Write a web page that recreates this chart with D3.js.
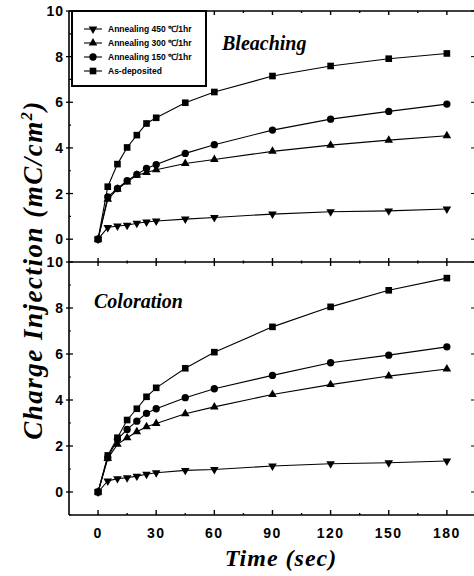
<!DOCTYPE html>
<html>
<head>
<meta charset="utf-8">
<script src="https://cdn.jsdelivr.net/npm/d3@7"></script>
<style>
  body { margin: 0; background: #fff; }
  svg { display: block; }
</style>
</head>
<body>
<div id="my_dataviz"></div>
<script>
// time points (sec)
const times = [0, 5, 10, 15, 20, 25, 30, 45, 60, 90, 120, 150, 180]

// Bleaching panel (mC/cm2)
const bleach450 = [0, 0.51, 0.58, 0.61, 0.70, 0.75, 0.80, 0.88, 0.95, 1.10, 1.20, 1.24, 1.32]
const bleach300 = [0, 1.75, 2.19, 2.51, 2.80, 2.92, 3.04, 3.32, 3.49, 3.85, 4.12, 4.34, 4.53]
const bleach150 = [0, 1.85, 2.22, 2.56, 2.84, 3.10, 3.27, 3.76, 4.14, 4.78, 5.26, 5.60, 5.92]
const bleachAsDep = [0, 2.30, 3.29, 4.02, 4.56, 5.07, 5.32, 5.98, 6.45, 7.15, 7.59, 7.91, 8.14]

// Coloration panel (mC/cm2)
const color450 = [0, 0.48, 0.58, 0.62, 0.69, 0.77, 0.84, 0.94, 0.98, 1.13, 1.23, 1.27, 1.35]
const color300 = [0, 1.46, 2.07, 2.36, 2.62, 2.84, 2.98, 3.40, 3.70, 4.24, 4.67, 5.04, 5.35]
const color150 = [0, 1.49, 2.29, 2.72, 3.08, 3.42, 3.62, 4.10, 4.49, 5.07, 5.62, 5.95, 6.31]
const colorAsDep = [0, 1.59, 2.36, 3.13, 3.62, 4.14, 4.53, 5.38, 6.08, 7.18, 8.05, 8.77, 9.30]

const seriesNames = ["Annealing 450 \u2103/1hr", "Annealing 300 \u2103/1hr", "Annealing 150 \u2103/1hr", "As-deposited"]
const seriesShapes = ["down", "up", "circle", "square"]

const xTicks = [0, 30, 60, 90, 120, 150, 180]
const xMinor = [15, 45, 75, 105, 135, 165]
const yTicks = [0, 2, 4, 6, 8, 10]
const yMinor = [-1, 1, 3, 5, 7, 9]

// set the dimensions of the graph
const width = 474
const height = 576
const pLeft = 69, pRight = 474, pTop = 11, pMid = 262, pBottom = 515

const svg = d3.select("#my_dataviz")
  .append("svg")
    .attr("width", width)
    .attr("height", height)

const x = d3.scaleLinear().domain([-15, 194]).range([pLeft, pRight])
const yTop = d3.scaleLinear().domain([-1, 10]).range([pMid, pTop])
const yBot = d3.scaleLinear().domain([-1, 10]).range([pBottom, pMid])

const tickFont = "'Liberation Sans', Arial, sans-serif"
const serif = "'Liberation Serif', 'Times New Roman', serif"

// marker generator
function marker(shape) {
  if (shape === "circle") return d3.symbol(d3.symbolCircle, 42)()
  if (shape === "square") return d3.symbol(d3.symbolSquare, 44)()
  return d3.symbol(d3.symbolTriangle, 32)()
}

function drawPanel(y, data, label, lx, ly) {
  const g = svg.append("g")

  data.forEach((vals, i) => {
    const pts = times.map((t, k) => [t, vals[k]])
    g.append("path")
      .datum(pts)
      .attr("fill", "none")
      .attr("stroke", "#000")
      .attr("stroke-width", 1.1)
      .attr("d", d3.line().x(d => x(d[0])).y(d => y(d[1])))

    g.selectAll(null)
      .data(pts)
      .join("path")
      .attr("d", marker(seriesShapes[i]))
      .attr("transform", d => `translate(${x(d[0])},${y(d[1])})` + (seriesShapes[i] === "down" ? " rotate(180)" : ""))
      .attr("fill", "#000")
  })

  // left axis ticks + labels
  g.selectAll(null).data(yTicks).join("line")
    .attr("x1", pLeft - 3).attr("x2", pLeft + 4)
    .attr("y1", d => y(d)).attr("y2", d => y(d))
    .attr("stroke", "#000").attr("stroke-width", 1.3)
  g.selectAll(null).data(yMinor).join("line")
    .attr("x1", pLeft).attr("x2", pLeft + 2)
    .attr("y1", d => y(d)).attr("y2", d => y(d))
    .attr("stroke", "#000").attr("stroke-width", 1.2)
  g.selectAll(null).data(yTicks).join("text")
    .attr("x", pLeft - 5)
    .attr("y", d => y(d) + 5)
    .attr("text-anchor", "end")
    .style("font-family", tickFont)
    .style("font-weight", "bold")
    .style("font-size", "14px")
    .style("letter-spacing", "1px")
    .text(d => d)

  // right side ticks (no visible line)
  g.selectAll(null).data(yTicks).join("line")
    .attr("x1", pRight - 3).attr("x2", pRight)
    .attr("y1", d => y(d)).attr("y2", d => y(d))
    .attr("stroke", "#000").attr("stroke-width", 1)

  // panel title
  g.append("text")
    .attr("x", lx).attr("y", ly)
    .style("font-family", serif)
    .style("font-weight", "bold")
    .style("font-style", "italic")
    .style("font-size", "20px")
    .text(label)
}

drawPanel(yTop, [bleach450, bleach300, bleach150, bleachAsDep], "Bleaching", 222, 50)
drawPanel(yBot, [color450, color300, color150, colorAsDep], "Coloration", 94, 308)

// frame lines
const frame = svg.append("g").attr("stroke", "#000")
frame.append("line").attr("x1", pLeft).attr("x2", pLeft).attr("y1", pTop).attr("y2", pBottom).attr("stroke-width", 1.6)
frame.append("line").attr("x1", pLeft).attr("x2", pRight).attr("y1", pTop).attr("y2", pTop).attr("stroke-width", 1.6)
frame.append("line").attr("x1", pLeft).attr("x2", pRight).attr("y1", pMid).attr("y2", pMid).attr("stroke-width", 1.5)
frame.append("line").attr("x1", pLeft).attr("x2", pRight).attr("y1", pBottom).attr("y2", pBottom).attr("stroke-width", 1.6)

// x ticks on top border (down), middle border (both ways), bottom border (up)
const xt = [[pTop, 0, 4, 0, 2], [pMid, -4, 4, -1.5, 1.5], [pBottom, -5, 0, -2, 0]]
xt.forEach(([yy, a, b, ma, mb]) => {
  frame.selectAll(null).data(xTicks).join("line")
    .attr("x1", d => x(d)).attr("x2", d => x(d))
    .attr("y1", yy + a).attr("y2", yy + b)
    .attr("stroke-width", 1.4)
  frame.selectAll(null).data(xMinor).join("line")
    .attr("x1", d => x(d)).attr("x2", d => x(d))
    .attr("y1", yy + ma).attr("y2", yy + mb)
    .attr("stroke-width", 1.4)
})

// x tick labels
svg.append("g").selectAll("text").data(xTicks).join("text")
  .attr("x", d => x(d))
  .attr("y", 538)
  .attr("text-anchor", "middle")
  .style("font-family", tickFont)
  .style("font-weight", "bold")
  .style("font-size", "14px")
  .style("letter-spacing", "1.5px")
  .text(d => d)

// axis titles
svg.append("text")
  .attr("x", 281).attr("y", 566)
  .attr("text-anchor", "middle")
  .style("font-family", serif)
  .style("font-weight", "bold")
  .style("font-style", "italic")
  .style("font-size", "24px")
  .style("letter-spacing", "1px")
  .text("Time (sec)")

const ylab = svg.append("text")
  .attr("transform", "translate(42,270) rotate(-90)")
  .attr("text-anchor", "middle")
  .style("font-family", serif)
  .style("font-weight", "bold")
  .style("font-style", "italic")
  .style("font-size", "27px")
  .style("letter-spacing", "1.5px")
ylab.append("tspan").text("Charge Injection (mC/cm")
ylab.append("tspan").attr("dy", -10).style("font-size", "16px").text("2")
ylab.append("tspan").attr("dy", 10).text(")")

// legend
const legend = svg.append("g")
legend.append("rect")
  .attr("x", 72).attr("y", 11)
  .attr("width", 134).attr("height", 75)
  .attr("fill", "#fff")
  .attr("stroke", "#000")
  .attr("stroke-width", 2)

const rowY = d3.scalePoint().domain(seriesNames).range([29, 71])
seriesNames.forEach((name, i) => {
  const yy = rowY(name)
  legend.append("line")
    .attr("x1", 84).attr("x2", 102)
    .attr("y1", yy).attr("y2", yy)
    .attr("stroke", "#000").attr("stroke-width", 1.1)
  legend.append("path")
    .attr("d", marker(seriesShapes[i]))
    .attr("transform", `translate(93,${yy})` + (seriesShapes[i] === "down" ? " rotate(180)" : ""))
    .attr("fill", "#000")
  legend.append("text")
    .attr("x", 108).attr("y", yy + 3)
    .style("font-family", tickFont)
    .style("font-weight", "bold")
    .style("font-size", "8.5px")
    .text(name)
})
</script>
</body>
</html>
